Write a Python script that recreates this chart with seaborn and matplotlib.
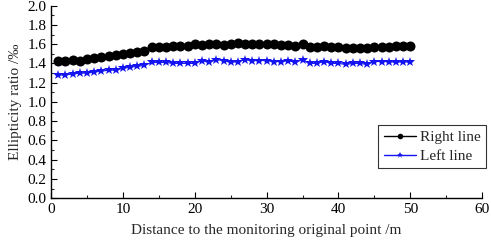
import numpy as np
import pandas as pd
import matplotlib
matplotlib.use("Agg")
import matplotlib.pyplot as plt
import seaborn as sns
from matplotlib.ticker import MultipleLocator

distance = list(range(1, 51))
right_line = [1.43, 1.43, 1.44, 1.43, 1.45, 1.46, 1.47, 1.48, 1.49, 1.50,
              1.51, 1.52, 1.53, 1.57, 1.57, 1.57, 1.58, 1.58, 1.58, 1.60,
              1.59, 1.60, 1.60, 1.59, 1.60, 1.61, 1.60, 1.60, 1.60, 1.60,
              1.60, 1.59, 1.59, 1.58, 1.60, 1.57, 1.57, 1.58, 1.57, 1.57,
              1.56, 1.56, 1.56, 1.56, 1.57, 1.57, 1.57, 1.58, 1.58, 1.58]
left_line = [1.28, 1.28, 1.29, 1.30, 1.30, 1.31, 1.32, 1.33, 1.33, 1.35,
             1.36, 1.37, 1.38, 1.41, 1.41, 1.41, 1.40, 1.40, 1.40, 1.40,
             1.43, 1.41, 1.44, 1.43, 1.41, 1.42, 1.44, 1.43, 1.43, 1.43,
             1.42, 1.42, 1.43, 1.41, 1.44, 1.40, 1.40, 1.42, 1.40, 1.40,
             1.39, 1.40, 1.40, 1.39, 1.42, 1.42, 1.42, 1.41, 1.42, 1.41]
series_names = ["Right line", "Left line"]

df = pd.DataFrame({
    "x": distance * 2,
    "y": right_line + left_line,
    "series": [series_names[0]] * len(distance) + [series_names[1]] * len(distance),
})

sns.set_style("ticks")
plt.rcParams["font.family"] = ["Liberation Serif", "DejaVu Serif"]
plt.rcParams["mathtext.fontset"] = "stix"

fig = plt.figure(figsize=(4.91, 2.46), dpi=100)
ax = fig.add_axes([0.104, 0.194, 0.878, 0.783])

sns.lineplot(data=df, x="x", y="y", hue="series", style="series",
             palette={"Right line": "black", "Left line": "#1414f0"},
             markers={"Right line": "o", "Left line": "*"},
             dashes=False, linewidth=0.8, markersize=7.2,
             markeredgewidth=0, ax=ax, legend=False)

ax.set_xlim(0, 60)
ax.set_ylim(0, 2.0)
ax.xaxis.set_major_locator(MultipleLocator(10))
ax.xaxis.set_minor_locator(MultipleLocator(5))
ax.yaxis.set_major_locator(MultipleLocator(0.2))
ax.yaxis.set_minor_locator(MultipleLocator(0.1))
ax.yaxis.set_major_formatter(matplotlib.ticker.FormatStrFormatter("%.1f"))
ax.tick_params(which="major", direction="in", length=4, width=0.8, labelsize=11, colors="black")
ax.tick_params(which="minor", direction="in", length=2, width=0.8)
for s in ["top", "right"]:
    ax.spines[s].set_visible(False)
for s in ["left", "bottom"]:
    ax.spines[s].set_linewidth(1.0)
    ax.spines[s].set_color("black")

ax.set_xlabel("Distance to the monitoring original point /m", fontsize=11, labelpad=6)
ax.set_ylabel("Ellipticity ratio /‰", fontsize=11, labelpad=4)

from matplotlib.lines import Line2D
handles = [
    Line2D([], [], color="black", marker="o", markersize=4, markeredgewidth=0, linewidth=1.0),
    Line2D([], [], color="#1414f0", marker="*", markersize=4.5, markeredgewidth=0, linewidth=1.0),
]
leg = ax.legend(handles, series_names, loc="upper left", bbox_to_anchor=(0.759, 0.381),
                frameon=True, fancybox=False, edgecolor="black", fontsize=11,
                handlelength=2.1, handletextpad=0.3, borderpad=0.35,
                labelspacing=0.35, borderaxespad=0)
leg.get_frame().set_linewidth(0.8)

fig.savefig("out.png", dpi=100)
